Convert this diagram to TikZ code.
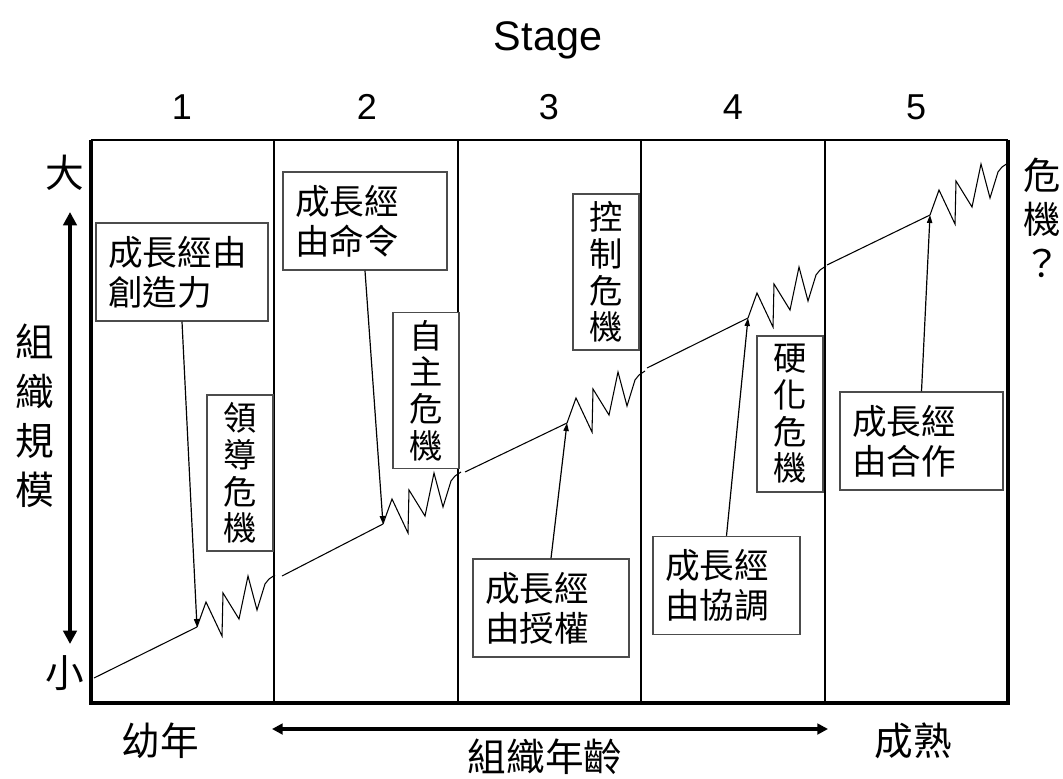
\documentclass[tikz,border=0pt]{standalone}
\usepackage{fontspec}
\setmainfont{Liberation Sans}
\newfontfamily\cjk{Noto Sans CJK TC}
\usetikzlibrary{arrows.meta}
\begin{document}
\begin{tikzpicture}[x=0.75pt,y=-0.75pt,
  gbox/.style={draw=black!70, fill=white, line width=1.1pt, inner ysep=0pt,
    font=\cjk\fontsize{26}{30}\selectfont},
  hbox/.style={gbox, align=left, inner xsep=9pt, minimum height=73.5pt},
  vbox/.style={gbox, align=center, inner xsep=0pt, minimum width=49.5pt, minimum height=117pt,
    font=\cjk\fontsize{25}{27.5}\selectfont},
  biglab/.style={font=\cjk\fontsize{29}{35}\selectfont, inner sep=0pt, align=center},
  curve/.style={line width=0.8pt, line join=miter},
  garrow/.style={line width=0.9pt, -{Triangle[length=6pt,width=4pt]}},
  axarrow/.style={line width=3pt, {Triangle[length=10pt,width=10pt]}-{Triangle[length=10pt,width=10pt]}},
  hxarrow/.style={line width=2.4pt, {Triangle[length=8pt,width=8pt]}-{Triangle[length=8pt,width=8pt]}}
]
\useasboundingbox (0,0) rectangle (1063,778);

% frame and dividers
\foreach \x in {274,458,641,825} \draw[line width=0.9pt] (\x,140) -- (\x,703);
\draw[line width=1.3pt] (91,140) -- (1008,140);
\draw[line width=2.3pt] (91,140) -- (91,703) -- (1008,703) -- (1008,140);

% stage labels
\node[font=\fontsize{31}{36}\selectfont] (stage) at (548,40) {Stage};
\foreach \n/\x in {1/182,2/367,3/549,4/733,5/916}
  \node[font=\fontsize{27}{32}\selectfont] (st\n) at (\x,107) {\n};

% growth points
\coordinate (P1) at (197,627);
\coordinate (P2) at (383,524);
\coordinate (P3) at (567,423);
\coordinate (P4) at (748,318);
\coordinate (P5) at (930,215);
\coordinate (S1) at (94,678);
\coordinate (S2) at (282,576);
\coordinate (S3) at (465,472);
\coordinate (S4) at (647,368);
\coordinate (S5) at (827,265);

\foreach \i in {1,...,5} {
  \draw[curve] (S\i) -- (P\i);
  \draw[curve] (P\i) -- +(9,-25) -- +(25,9) -- +(26,-34) -- +(42,-8) -- +(51,-51)
     -- +(60,-17) -- +(68,-43) -- +(72,-48) -- +(78,-52);
}

% boxes
\node[hbox, text width=111pt] (b1) at (182,272) {成長經由\\創造力};
\node[hbox, text width=105pt] (b2) at (365,221) {成長經\\由命令};
\node[hbox, text width=99pt] (b3) at (551,608) {成長經\\由授權};
\node[hbox, text width=92pt] (b4) at (726.5,585.5) {成長經\\由協調};
\node[hbox, text width=104pt] (b5) at (921.5,441) {成長經\\由合作};

\node[vbox] (v1) at (240,473) {領\\導\\危\\機};
\node[vbox] (v2) at (426,390.5) {自\\主\\危\\機};
\node[vbox] (v3) at (606,272) {控\\制\\危\\機};
\node[vbox] (v4) at (790,414) {硬\\化\\危\\機};

% arrows from boxes
\draw[garrow] (b1.south) -- (P1);
\draw[garrow] (b2.south) -- (P2);
\draw[garrow] (b3.north) -- (P3);
\draw[garrow] (b4.north) -- (P4);
\draw[garrow] (b5.north) -- (P5);

% axes labels
\node[biglab] (big) at (65,173) {大};
\node[biglab] (small) at (65,673) {小};
\coordinate (ay1) at (70,212);
\coordinate (ay2) at (70,644);
\draw[axarrow] (ay2) -- (ay1);
\node[biglab, font=\cjk\fontsize{29}{37}\selectfont] (size) at (35,416) {組\\織\\規\\模};
\node[biglab, font=\cjk\fontsize{28}{33}\selectfont] (crisis) at (1042,218) {危\\機\\？};

\node[biglab] (young) at (160,741) {幼年};
\node[biglab] (mature) at (913,741) {成熟};
\node[biglab] (age) at (545,757) {組織年齡};
\coordinate (ax1) at (272,729);
\coordinate (ax2) at (828,729);
\draw[hxarrow] (ax1) -- (ax2);
\end{tikzpicture}
\end{document}
